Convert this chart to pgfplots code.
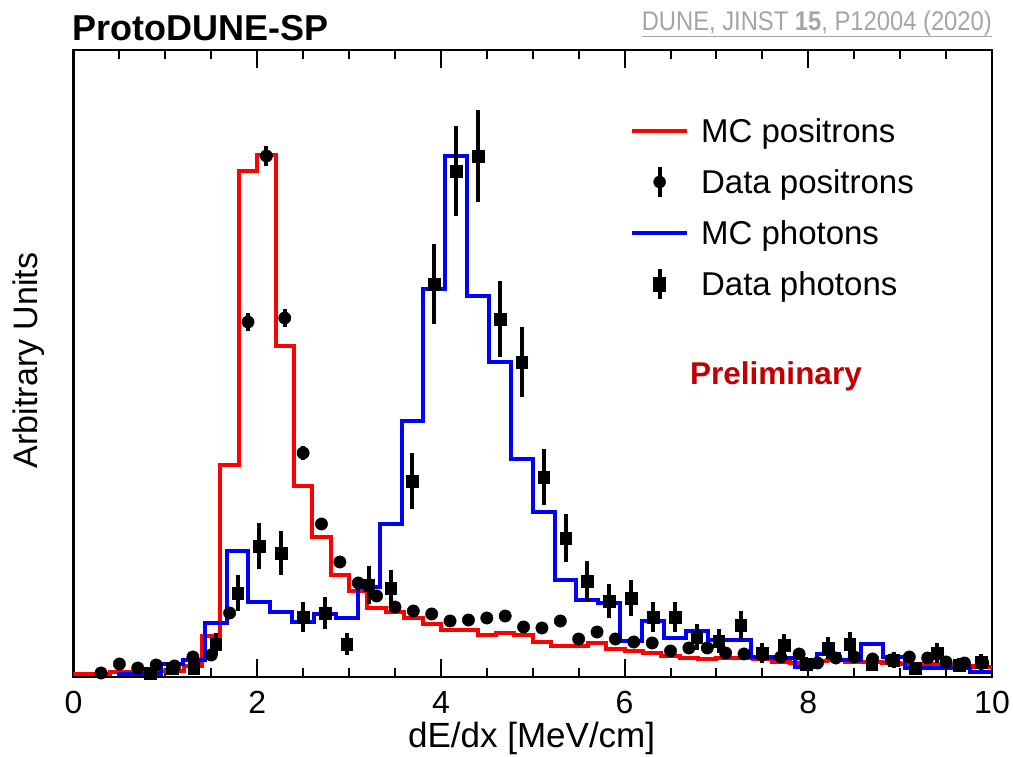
\documentclass[border=0pt]{standalone}
\usepackage{pgfplots}
\usepackage{pgfplotstable}
\pgfplotsset{compat=1.18}
\usepackage{fontspec}
\setmainfont{Liberation Sans}
\newfontfamily\citefont[FakeStretch=0.88]{Liberation Sans}
\definecolor{prelimred}{RGB}{192,0,0}
\definecolor{citegray}{RGB}{165,165,165}
\newcommand{\fs}[1]{\fontsize{#1}{#1}\selectfont}

% MC positrons: 50 bins of 0.2 MeV/cm (left edges, last row closes the histogram)
\pgfplotstableread{
x y
0.0 3
0.2 3
0.4 5
0.6 5
0.8 6
1.0 6
1.2 11
1.4 41
1.6 212
1.8 506
2.0 522
2.2 331
2.4 191
2.6 140
2.8 102
3.0 86
3.2 69
3.4 65
3.6 59
3.8 53
4.0 47
4.2 47
4.4 42
4.6 44
4.8 42
5.0 35
5.2 31
5.4 31
5.6 34
5.8 28
6.0 26
6.2 24
6.4 21
6.6 19
6.8 18
7.0 19
7.2 19
7.4 18
7.6 15
7.8 14
8.0 16
8.2 17
8.4 15
8.6 15
8.8 14
9.0 13
9.2 13
9.4 12
9.6 11
9.8 10
10.0 10
}\mcpos

% MC photons: 42 bins of 10/42 MeV/cm (left edges)
\pgfplotstableread{
x y
0.4762 3
0.7143 3
0.9524 13
1.1905 17
1.4286 54
1.6667 126
1.9048 75
2.1429 65
2.3810 55
2.6190 63
2.8571 59
3.0952 90
3.3333 153
3.5714 256
3.8095 388
4.0476 521
4.2857 381
4.5238 315
4.7619 218
5.0000 165
5.2381 97
5.4762 77
5.7143 74
5.9524 36
6.1905 56
6.4286 39
6.6667 46
6.9048 37
7.1429 37
7.3810 20
7.6190 19
7.8571 10
8.0952 23
8.3333 17
8.5714 33
8.8095 20
9.0476 9
9.2857 9
9.5238 9
9.7619 5
10.0000 5
}\mcphot

% Data positrons: bin centres, content, error
\pgfplotstableread{
x y e
0.3 4 2
0.5 13 3
0.7 9 3
0.9 12 3
1.1 11 3
1.3 20 3
1.5 22 3
1.7 64 4
1.9 355 9
2.1 521 10
2.3 359 9
2.5 224 7
2.7 153 5
2.9 115 5
3.1 94 4
3.3 81 4
3.5 70 4
3.7 66 4
3.9 63 3
4.1 56 3
4.3 57 3
4.5 59 3
4.7 61 3
4.9 50 3
5.1 49 3
5.3 56 3
5.5 38 3
5.7 45 3
5.9 38 3
6.1 35 3
6.3 34 3
6.5 26 2
6.7 29 2
6.9 29 2
7.1 24 2
7.3 23 2
7.5 22 2
7.7 20 2
7.9 23 2
8.1 14 2
8.3 19 2
8.5 20 2
8.7 18 2
8.9 17 2
9.1 20 2
9.3 19 2
9.5 15 2
9.7 14 2
9.9 14 2
}\datapos

% Data photons: bin centres, content, error
\pgfplotstableread{
x y e
0.8333 4 4
1.0714 9 6
1.3095 9 6
1.5476 33 11
1.7857 84 18
2.0238 131 23
2.2619 124 22
2.5000 60 15
2.7381 64 16
2.9762 33 11
3.2143 92 19
3.4524 89 18
3.6905 196 28
3.9286 393 40
4.1667 506 45
4.4048 521 46
4.6429 358 38
4.8810 315 35
5.1190 200 28
5.3571 139 24
5.5952 96 20
5.8333 76 17
6.0714 79 18
6.3095 60 15
6.5476 60 15
6.7857 40 13
7.0238 36 12
7.2619 52 14
7.5000 24 10
7.7381 32 11
7.9762 13 7
8.2143 29 11
8.4524 33 12
8.6905 13 7
8.9286 17 8
9.1667 9 6
9.4048 24 10
9.6429 12 7
9.8810 15 8
}\dataphot

\begin{document}
\begin{tikzpicture}
\path[use as bounding box] (0pt,0pt) rectangle (1013pt,757pt);
\begin{axis}[
  at={(73.5pt,80pt)}, anchor=south west,
  width=918.5pt, height=627pt, scale only axis,
  xmin=0, xmax=10, ymin=0, ymax=627,
  xtick={0,2,4,6,8,10}, minor x tick num=3,
  ytick=\empty,
  xtick pos=both,
  tick align=inside,
  major tick length=18pt, minor tick length=9pt,
  every tick/.style={black, line width=2pt},
  axis line style={line width=2.6pt},
  /pgf/number format/assume math mode=true,
  xticklabel style={font=\fs{32}, anchor=base, yshift=-37pt},
  xlabel={dE/dx [MeV/cm]},
  xlabel style={font=\fs{35}, at={(axis description cs:0.4988,-0.113)}, anchor=base},
  ylabel={Arbitrary Units},
  ylabel style={font=\fs{34}, at={(axis description cs:-0.0394,0.505)}, anchor=base, rotate=0},
  legend style={at={(axis cs:6.06,562)}, anchor=north west, draw=none, fill=none,
    inner sep=0pt, outer sep=0pt, font=\fs{33}, row sep=18pt, column sep=12pt,
    nodes={inner sep=0pt, text height=28pt, text depth=4pt}},
  legend cell align=left,
]
% histograms
\addplot[const plot, draw=red, line width=4pt, forget plot] table {\mcpos};
\addplot[const plot, draw=blue, line width=4pt, forget plot] table {\mcphot};
% data points with errors
\addplot[only marks, black, mark=*, mark size=6.2pt, forget plot,
  error bars/.cd, y dir=both, y explicit, error mark=none,
  error bar style={line width=4pt}]
  table[y error=e] {\datapos};
\addplot[only marks, black, mark=square*, mark size=5.8pt, forget plot,
  error bars/.cd, y dir=both, y explicit, error mark=none,
  error bar style={line width=4pt}]
  table[y error=e] {\dataphot};
% legend
\addlegendimage{legend image code/.code={\draw[red, line width=4pt] (0pt,0pt) -- (55pt,0pt);}}
\addlegendentry{MC positrons}
\addlegendimage{legend image code/.code={\draw[black, line width=4pt] (27.5pt,-15pt) -- (27.5pt,15pt); \fill[black] (27.5pt,0pt) circle (6pt);}}
\addlegendentry{Data positrons}
\addlegendimage{legend image code/.code={\draw[blue, line width=4pt] (0pt,0pt) -- (55pt,0pt);}}
\addlegendentry{MC photons}
\addlegendimage{legend image code/.code={\draw[black, line width=4pt] (27.5pt,-15pt) -- (27.5pt,15pt); \fill[black] (21.5pt,-7pt) rectangle (33.5pt,7pt);}}
\addlegendentry{Data photons}
\node[anchor=base west, inner sep=0pt, text=prelimred, font=\bfseries\fs{31.5}] at (axis cs:6.712,292) {Preliminary};
\end{axis}
\node[anchor=base west, inner sep=0pt, font=\bfseries\fs{36}] at (72pt,716pt) {ProtoDUNE-SP};
\node[anchor=base east, inner sep=0pt, text=citegray, font=\citefont\fs{27}] (cite) at (992pt,726.4pt) {DUNE, JINST \textbf{15}, P12004 (2020)};
\draw[citegray, line width=1.5pt] ([yshift=-6pt]cite.base west) -- ([yshift=-6pt]cite.base east);
\end{tikzpicture}
\end{document}
